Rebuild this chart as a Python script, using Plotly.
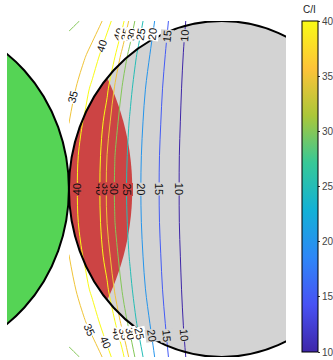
import math
import plotly.graph_objects as go

# C/I field (dB) sampled on a grid; rows are symmetric about y = 0
x_grid = [-1.0, -0.95, -0.9, -0.85, -0.8, -0.75, -0.7, -0.65, -0.6, -0.55, -0.5, -0.45,
          -0.4, -0.35, -0.3, -0.25, -0.2, -0.1, 0.0, 0.1, 0.2, 0.3, 0.42]
y_half = [0.0, 0.2, 0.4, 0.6, 0.8, 1.0]
ci_row_y00 = [37.3, 39.6, 43.5, 44.4, 40.3, 34.3, 29.7, 26.6, 23.6, 20.9, 18.7, 16.6, 14.6, 12.7, 10.8, 8.9, 7.1, 4.0, 1.5, -0.5, -2.0, -3.0, -4.0]
ci_row_y02 = [36.9, 39.2, 42.7, 45.0, 40.8, 34.9, 30.1, 26.9, 23.9, 21.1, 18.8, 16.7, 14.7, 12.8, 10.8, 9.0, 7.2, 4.1, 1.6, -0.4, -1.9, -2.9, -3.9]
ci_row_y04 = [34.9, 37.8, 40.5, 45.0, 42.6, 37.2, 31.7, 27.8, 24.6, 21.8, 19.2, 17.1, 15.05, 13.0, 11.1, 9.2, 7.4, 4.3, 1.8, -0.2, -1.7, -2.7, -3.7]
ci_row_y06 = [34.2, 35.1, 37.8, 41.0, 46.0, 41.1, 34.5, 29.6, 25.9, 22.9, 20.05, 17.8, 15.5, 13.5, 11.4, 9.5, 7.7, 4.6, 2.1, 0.1, -1.4, -2.4, -3.4]
ci_row_y08 = [31.8, 33.4, 34.4, 36.5, 39.9, 45.7, 40.6, 33.4, 28.4, 24.5, 21.6, 18.9, 16.4, 14.1, 12.0, 9.9, 8.0, 4.9, 2.4, 0.4, -1.1, -2.1, -3.1]
ci_row_y10 = [29.2, 29.7, 30.5, 32.2, 34.0, 36.9, 42.6, 41.8, 33.5, 27.9, 23.75, 20.6, 17.8, 15.05, 12.8, 10.6, 8.5, 5.5, 3.0, 1.0, -0.5, -1.5, -2.5]
contour_levels = [10, 15, 20, 25, 30, 35, 40]

# contour labels: (level, y position, side of the C/I ridge, reading direction at y = 0)
label_specs = [
    (40, 0.0, "left", -1), (40, 0.0, "right", 1), (35, 0.0, "right", 1), (30, 0.0, "right", 1),
    (25, 0.0, "right", 1), (20, 0.0, "right", 1), (15, 0.0, "right", 1), (10, 0.0, "right", 1),
    (35, 0.55, "left", 0), (40, 0.85, "left", 0),
    (40, 0.92, "right", 0), (35, 0.92, "right", 0), (30, 0.92, "right", 0), (25, 0.92, "right", 0),
    (20, 0.92, "right", 0), (15, 0.91, "right", 0), (10, 0.91, "right", 0),
    (35, -0.84, "left", 0), (40, -0.91, "left", 0),
    (40, -0.86, "right", 0), (35, -0.86, "right", 0), (30, -0.86, "right", 0), (25, -0.86, "right", 0),
    (20, -0.87, "right", 0), (15, -0.87, "right", 0), (10, -0.87, "right", 0),
]

# cells: (centre x, centre y, radius)
serving_cell = (0.0, 0.0, 1.0)
neighbour_cell = (-2.0, 0.0, 1.0)
overlap_radius = math.sqrt(2.0)

GREY = "rgb(211,211,211)"
RED = "rgb(204,68,68)"
GREEN = "rgb(85,212,85)"
FONT = "Liberation Sans, Arial, sans-serif"

PARULA = [
    [0.0, "rgb(62,38,168)"],
    [1 / 7, "rgb(72,82,244)"],
    [2 / 7, "rgb(46,135,247)"],
    [3 / 7, "rgb(18,177,214)"],
    [4 / 7, "rgb(55,200,151)"],
    [5 / 7, "rgb(171,199,57)"],
    [6 / 7, "rgb(254,195,56)"],
    [1.0, "rgb(249,251,21)"],
]

X_RANGE = [-1.405, 0.42]
Y_RANGE = [-1.0, 1.0]
W, H = 333, 360
M = dict(l=7, r=47, t=21, b=3)
PLOT_H = H - M["t"] - M["b"]
px_x = (W - M["l"] - M["r"]) / (X_RANGE[1] - X_RANGE[0])
px_y = PLOT_H / (Y_RANGE[1] - Y_RANGE[0])

rows_pos = [ci_row_y00, ci_row_y02, ci_row_y04, ci_row_y06, ci_row_y08, ci_row_y10]
y_grid = [-v for v in y_half[:0:-1]] + y_half
z_grid = rows_pos[:0:-1] + rows_pos


def grid_value(x, y):
    """Bilinear lookup in the C/I grid."""
    j = max(0, min(len(y_grid) - 2, max(k for k in range(len(y_grid)) if y_grid[k] <= y)))
    i = max(0, min(len(x_grid) - 2, max(k for k in range(len(x_grid)) if x_grid[k] <= x)))
    ty = (y - y_grid[j]) / (y_grid[j + 1] - y_grid[j])
    tx = (x - x_grid[i]) / (x_grid[i + 1] - x_grid[i])
    z00, z01 = z_grid[j][i], z_grid[j][i + 1]
    z10, z11 = z_grid[j + 1][i], z_grid[j + 1][i + 1]
    return (z00 * (1 - tx) + z01 * tx) * (1 - ty) + (z10 * (1 - tx) + z11 * tx) * ty


def contour_x(level, y, side):
    """x where the contour of `level` crosses height y on the given side of the ridge."""
    step = 0.001
    x = x_grid[0]
    prev = grid_value(x, y)
    while x + step <= x_grid[-1]:
        nx = x + step
        cur = grid_value(nx, y)
        if side == "left" and prev < level <= cur:
            return x + step * (level - prev) / (cur - prev)
        if side == "right" and prev >= level > cur:
            return x + step * (prev - level) / (prev - cur)
        x, prev = nx, cur
    return None


def inside(x, y, cell, r=None):
    cx, cy, cr = cell
    return (x - cx) ** 2 + (y - cy) ** 2 <= (r if r else cr) ** 2


fig = go.Figure()

fig.add_trace(go.Contour(
    x=x_grid, y=y_grid, z=z_grid,
    colorscale=PARULA, zmin=min(contour_levels), zmax=max(contour_levels),
    contours=dict(start=contour_levels[0], end=contour_levels[-1], size=5,
                  coloring="lines", showlabels=False),
    line=dict(width=1),
    showscale=False, hoverinfo="skip",
))

# colour bar for C/I
fig.add_trace(go.Scatter(
    x=[None], y=[None], mode="markers", showlegend=False, hoverinfo="skip",
    marker=dict(color=[10, 40], cmin=10, cmax=40, colorscale=PARULA, showscale=True,
                colorbar=dict(thickness=16, len=(PLOT_H - 5) / PLOT_H, lenmode="fraction",
                              y=1, yanchor="top",
                              ypad=0, xref="container", x=302 / W, xanchor="left", xpad=0,
                              outlinewidth=1, outlinecolor="black",
                              ticks="outside", ticklen=2, tickcolor="#333",
                              tickvals=contour_levels,
                              tickfont=dict(size=10, color="#444", family=FONT))),
))

# lens: serving cell intersected with the disc of radius sqrt(2) around the neighbour
cx0, cy0, r0 = serving_cell
cx1, cy1, r1 = neighbour_cell
xi = (r0 ** 2 - overlap_radius ** 2 + cx1 ** 2) / (2 * cx1)
yi = math.sqrt(r0 ** 2 - xi ** 2)
t0 = math.atan2(yi, xi)
a0 = math.atan2(yi, xi - cx1)
pts = []
n = 60
for i in range(n + 1):
    t = t0 + (2 * math.pi - 2 * t0) * i / n
    pts.append((cx0 + r0 * math.cos(t), cy0 + r0 * math.sin(t)))
for i in range(n + 1):
    a = -a0 + 2 * a0 * i / n
    pts.append((cx1 + overlap_radius * math.cos(a), cy1 + overlap_radius * math.sin(a)))
lens_path = "M " + " L ".join(f"{px:.5f},{py:.5f}" for px, py in pts) + " Z"

fig.add_shape(type="circle", xref="x", yref="y",
              x0=cx0 - r0, x1=cx0 + r0, y0=cy0 - r0, y1=cy0 + r0,
              fillcolor=GREY, line=dict(width=0), layer="below")
fig.add_shape(type="path", xref="x", yref="y", path=lens_path,
              fillcolor=RED, line=dict(width=0), layer="below")
fig.add_shape(type="circle", xref="x", yref="y",
              x0=cx1 - r1, x1=cx1 + r1, y0=cy1 - r1, y1=cy1 + r1,
              fillcolor=GREEN, line=dict(color="black", width=2), layer="above")
fig.add_shape(type="circle", xref="x", yref="y",
              x0=cx0 - r0, x1=cx0 + r0, y0=cy0 - r0, y1=cy0 + r0,
              fillcolor="rgba(0,0,0,0)", line=dict(color="black", width=2), layer="above")

# contour labels laid along the lines, masking the line beneath them
for level, ly, side, direction in label_specs:
    lx = contour_x(level, ly, side)
    if lx is None:
        continue
    if direction:
        angle = 90 * direction
    else:
        xa = contour_x(level, ly + 0.02, side)
        xb = contour_x(level, ly - 0.02, side)
        theta = math.degrees(math.atan2(0.04 * px_y, (xa - xb) * px_x))
        if theta > 90:
            theta -= 180
        angle = -theta
    if inside(lx, ly, serving_cell) and inside(lx, ly, neighbour_cell, overlap_radius):
        bg = RED
    elif inside(lx, ly, serving_cell):
        bg = GREY
    else:
        bg = "white"
    fig.add_annotation(x=lx, y=ly, xref="x", yref="y", text=str(level), showarrow=False,
                       textangle=angle, bgcolor=bg, borderpad=0,
                       font=dict(size=11, color="#111", family=FONT))

fig.add_annotation(text="C/I", xref="paper", yref="paper", x=(309 - 7) / 279, y=1 + 11 / 336,
                   xanchor="center", yanchor="middle", showarrow=False,
                   font=dict(size=10, color="#222", family=FONT))

fig.update_xaxes(range=X_RANGE, visible=False, showgrid=False, zeroline=False)
fig.update_yaxes(range=Y_RANGE, visible=False, showgrid=False, zeroline=False)
fig.update_layout(width=W, height=H, margin=M,
                  paper_bgcolor="white", plot_bgcolor="white", showlegend=False)

fig.write_html("out.html")
